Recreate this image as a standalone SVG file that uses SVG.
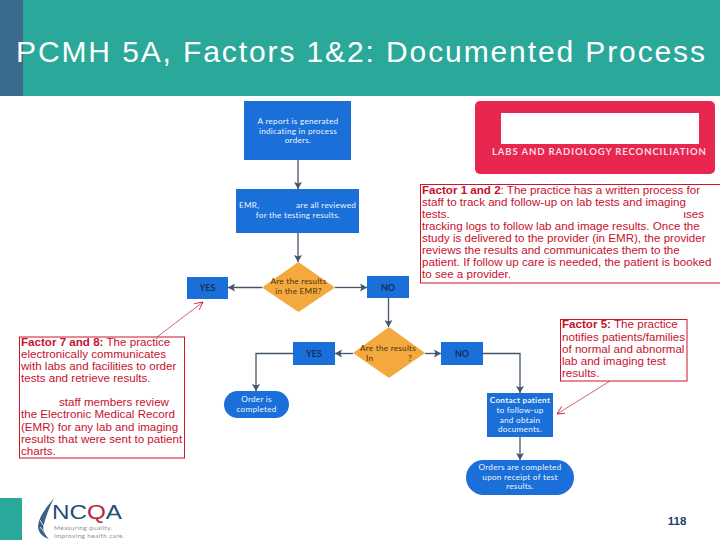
<svg xmlns="http://www.w3.org/2000/svg" width="720" height="540" viewBox="0 0 720 540">
<defs>
<marker id="ah" markerUnits="userSpaceOnUse" markerWidth="8" markerHeight="8" refX="7" refY="4" orient="auto"><path d="M0 0L7 4L0 8L1.500 4Z" fill="#44546a"/></marker>
<marker id="rh" markerUnits="userSpaceOnUse" markerWidth="10" markerHeight="10" refX="8" refY="4" orient="auto"><path d="M0 0L8 4L0 8" fill="none" stroke="#c8102e" stroke-width="0.8"/></marker>
</defs>
<style>
text{font-family:"Lato","Open Sans","Liberation Sans",sans-serif}
.blue{fill:#1a6fd8}
.dia{fill:#f4a93e}
.w{fill:#eef5fd;font-size:8.200px;text-anchor:middle;letter-spacing:.25px}
.wl{fill:#eef5fd;font-size:8.200px;letter-spacing:.25px}
.n{fill:#14305e;font-size:9px;text-anchor:middle;font-weight:700}
.d{fill:#4a3410;font-size:8.200px;text-anchor:middle;letter-spacing:.25px}
.dl{fill:#4a3410;font-size:8.200px;letter-spacing:.25px}
.r{fill:#c8102e;font-family:"Liberation Sans",Arial,sans-serif;font-size:11.600px}
.rb{fill:none;stroke:#d0142c;stroke-width:1}
.c{fill:none;stroke:#44546a;stroke-width:1.300}
.a{fill:none;stroke:#c8384a;stroke-width:.8}
</style>
<rect width="720" height="540" fill="#fff"/>
<g id="header">
<rect width="720" height="96" fill="#2aa99a"/>
<rect width="23" height="96" fill="#3b6b8c"/>
<text x="16" y="62" font-size="30" fill="#fff" style="font-family:'Liberation Sans',Arial,sans-serif" textLength="689" lengthAdjust="spacing">PCMH 5A, Factors 1&amp;2: Documented Process</text>
</g>
<g id="banner">
<rect x="475" y="101" width="240" height="73" rx="5" fill="#e8264f"/>
<rect x="501" y="113" width="198" height="31" fill="#fff"/>
<text x="492" y="155" font-size="9.600" font-weight="700" fill="#f7dfe4" textLength="214">LABS AND RADIOLOGY RECONCILIATION</text>
</g>
<g id="connectors">
<path class="c" marker-end="url(#ah)" d="M298 160V189"/>
<path class="c" marker-end="url(#ah)" d="M298 233V262"/>
<path class="c" marker-end="url(#ah)" d="M262 287.500H228"/>
<path class="c" marker-end="url(#ah)" d="M335 287.500H367"/>
<path class="c" marker-end="url(#ah)" d="M388.500 298V327"/>
<path class="c" marker-end="url(#ah)" d="M353 353.500H335"/>
<path class="c" marker-end="url(#ah)" d="M425 353.500H441"/>
<path class="c" marker-end="url(#ah)" d="M293 353.500H256V391"/>
<path class="c" marker-end="url(#ah)" d="M483 353.500H520V393"/>
<path class="c" marker-end="url(#ah)" d="M520 437V460"/>
<path class="a" marker-end="url(#rh)" d="M157 337L203 302"/>
<path class="a" marker-end="url(#rh)" d="M610 381L557 414"/>
</g>
<g id="n1"><rect class="blue" x="244" y="101" width="107" height="59"/>
<text class="w" x="298" y="124">A report is generated</text><text class="w" x="298" y="133.500">indicating in process</text><text class="w" x="298" y="143">orders.</text></g>
<g id="n2"><rect class="blue" x="236" y="189" width="123" height="44"/>
<text class="wl" x="239" y="208">EMR,</text><text class="wl" x="296" y="208">are all reviewed</text><text class="w" x="298" y="218">for the testing results.</text></g>
<g id="d1"><path class="dia" d="M298.500 262L335 287.500L298.500 312L262 287.500Z"/>
<text class="d" x="298.500" y="284">Are the results</text><text class="d" x="298.500" y="294">in the EMR?</text></g>
<g id="yes1"><rect class="blue" x="187" y="277" width="41" height="22"/><text class="n" x="207.500" y="291">YES</text></g>
<g id="no1"><rect class="blue" x="367" y="276" width="42" height="22"/><text class="n" x="388" y="291">NO</text></g>
<g id="d2"><path class="dia" d="M389 327L425 353L389 378L353 353Z"/>
<text class="d" x="388" y="351">Are the results</text><text class="dl" x="366" y="361">In</text><text class="dl" x="408" y="361">?</text></g>
<g id="yes2"><rect class="blue" x="293" y="342" width="42" height="23"/><text class="n" x="314" y="357">YES</text></g>
<g id="no2"><rect class="blue" x="441" y="342" width="42" height="23"/><text class="n" x="462" y="357">NO</text></g>
<g id="done"><rect class="blue" x="224" y="391" width="65" height="27" rx="13.500"/>
<text class="w" x="256.500" y="402">Order is</text><text class="w" x="256.500" y="412">completed</text></g>
<g id="contact"><rect class="blue" x="487" y="393" width="66" height="44"/>
<text class="w" x="520" y="403" font-weight="700">Contact patient</text><text class="w" x="520" y="413">to follow-up</text><text class="w" x="520" y="423">and obtain</text><text class="w" x="520" y="432">documents.</text></g>
<g id="orders"><rect class="blue" x="466" y="460" width="108" height="35" rx="17.500"/>
<text class="w" x="520" y="470">Orders are completed</text><text class="w" x="520" y="480">upon receipt of test</text><text class="w" x="520" y="489">results.</text></g>
<g id="factor12"><rect class="rb" x="420.500" y="184.500" width="300" height="98.500"/>
<text class="r" x="422" y="194"><tspan font-weight="700">Factor 1 and 2</tspan>: The practice has a written process for</text>
<text class="r" x="422" y="206">staff  to track and follow-up on lab tests and imaging</text>
<text class="r" x="422" y="218">tests.</text><text class="r" x="704" y="218" text-anchor="end">uses</text>
<text class="r" x="422" y="230">tracking logs to follow lab and image results. Once the</text>
<text class="r" x="422" y="242">study is delivered to the provider (in EMR), the provider</text>
<text class="r" x="422" y="254">reviews the results and communicates them to the</text>
<text class="r" x="422" y="266">patient. If follow up care is needed, the patient is booked</text>
<text class="r" x="422" y="278">to see a provider.</text></g>
<rect x="676" y="208" width="8" height="12" fill="#fff"/>
<g id="factor78"><rect class="rb" x="19.500" y="337" width="165" height="121"/>
<text class="r" x="21" y="346"><tspan font-weight="700">Factor 7 and 8:</tspan> The practice</text>
<text class="r" x="21" y="358">electronically communicates</text>
<text class="r" x="21" y="370">with labs and facilities to order</text>
<text class="r" x="21" y="382">tests and retrieve results.</text>
<text class="r" x="59" y="406">staff members review</text>
<text class="r" x="21" y="418">the Electronic Medical Record</text>
<text class="r" x="21" y="431">(EMR) for any lab and imaging</text>
<text class="r" x="21" y="443">results that were sent to patient</text>
<text class="r" x="21" y="455">charts.</text></g>
<g id="factor5"><rect class="rb" x="560.500" y="319.500" width="126.500" height="61.500"/>
<text class="r" x="562" y="328"><tspan font-weight="700">Factor 5:</tspan> The practice</text>
<text class="r" x="562" y="341">notifies patients/families</text>
<text class="r" x="562" y="353">of normal and abnormal</text>
<text class="r" x="562" y="365">lab and imaging test</text>
<text class="r" x="562" y="377">results.</text></g>
<g id="footer">
<rect x="0" y="498" width="22" height="42" fill="#2aa99a"/>
<path d="M54 498C46 508 39 516 38 526C38 532 42 537 49 539C44 534 42 529 44 524C46 516 50 506 54 498Z" fill="#3a6186"/>
<path d="M40 520C43 526 47 530 52 531M40 527C43 531 46 534 51 535" fill="none" stroke="#fff" stroke-width=".8"/>
<text x="52" y="519" font-size="20" fill="#1f4e79" textLength="70" lengthAdjust="spacingAndGlyphs" style="font-family:'Liberation Sans',sans-serif">NC<tspan fill="#b5293c">Q</tspan>A</text>
<text x="54" y="530" font-size="6.500" fill="#8a8f96" textLength="58">Measuring quality.</text>
<text x="54" y="538" font-size="6.500" fill="#8a8f96" textLength="70">improving health care.</text>
<text x="677" y="525" font-size="11.500" font-weight="700" fill="#1f3a6e" text-anchor="middle" style="font-family:'Liberation Sans',Arial,sans-serif">118</text>
</g>
</svg>
